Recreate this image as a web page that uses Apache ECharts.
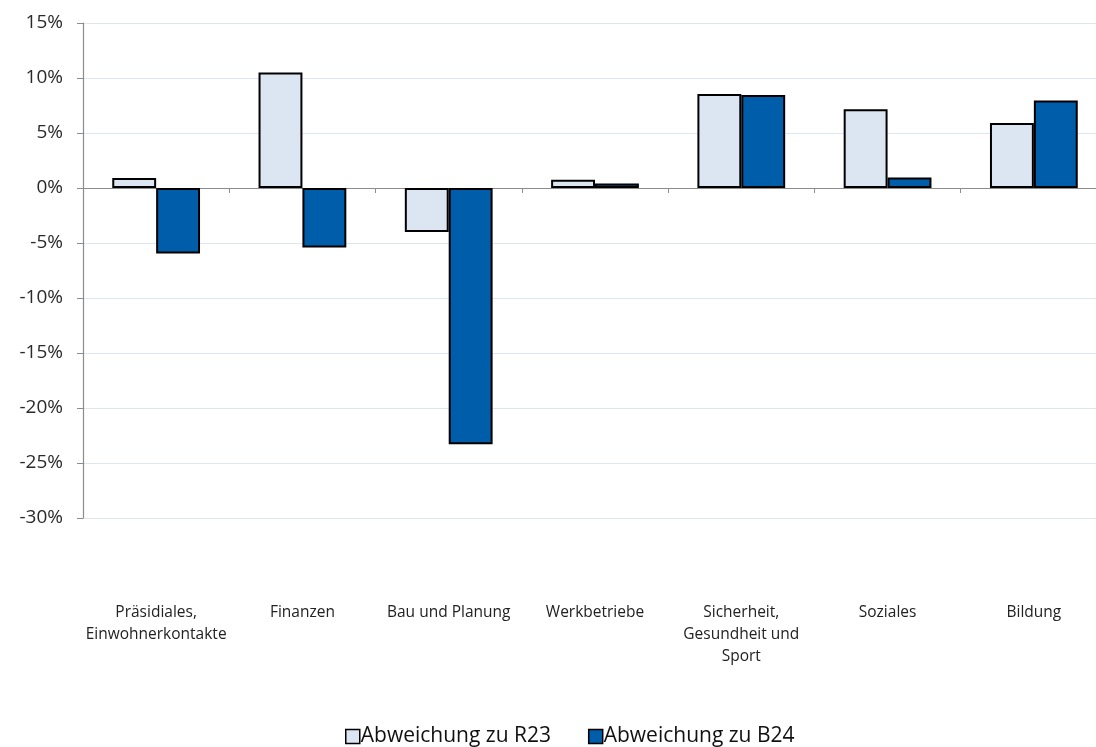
<!DOCTYPE html>
<html>
<head>
<meta charset="utf-8">
<script src="https://cdn.jsdelivr.net/npm/echarts@6/dist/echarts.min.js"></script>
<style>
html,body{margin:0;padding:0;background:#fff;}
#c{width:1096px;height:747px;}
</style>
</head>
<body>
<div id="c"></div>
<script>
const categories = [
  'Präsidiales,\nEinwohnerkontakte',
  'Finanzen',
  'Bau und Planung',
  'Werkbetriebe',
  'Sicherheit,\nGesundheit und\nSport',
  'Soziales',
  'Bildung'
];
const seriesNames = ['Abweichung zu R23', 'Abweichung zu B24'];
const valuesR23 = [0.9, 10.5, -4.0, 0.75, 8.55, 7.15, 5.9];
const valuesB24 = [-5.95, -5.4, -23.3, 0.4, 8.45, 0.95, 7.95];
const yTicks = { min: -30, max: 15, interval: 5 };

const chart = echarts.init(document.getElementById('c'), null, { renderer: 'canvas' });
const font = "'Open Sans', 'DejaVu Sans', sans-serif";
const colors = ['#dce6f2', '#005da9'];

chart.setOption({
  animation: false,
  backgroundColor: '#ffffff',
  textStyle: { fontFamily: font },
  grid: { left: 83, top: 23, right: -11, height: 495, containLabel: false, outerBoundsMode: 'none' },
  legend: {
    top: 721,
    left: 340,
    icon: 'rect',
    itemWidth: 14,
    itemHeight: 14,
    itemGap: 37,
    textStyle: { fontFamily: font, fontSize: 21, color: '#111', padding: [0, 0, 0, -4] },
    data: seriesNames.map((n, i) => ({
      name: n,
      itemStyle: { color: colors[i], borderColor: '#000', borderWidth: 1.5 }
    }))
  },
  xAxis: [
    {
      type: 'category',
      data: categories,
      position: 'bottom',
      axisLine: { show: false, onZero: false },
      axisTick: { show: false },
      axisLabel: {
        interval: 0,
        margin: 84,
        fontFamily: font,
        fontSize: 15.5,
        lineHeight: 22,
        color: '#222',
        align: 'center',
        verticalAlign: 'top'
      },
      splitLine: { show: false }
    },
    {
      type: 'category',
      data: categories,
      position: 'bottom',
      axisLine: { show: true, onZero: true, lineStyle: { color: '#8c8c8c', width: 1.2 } },
      axisTick: { show: true, length: 5, lineStyle: { color: '#8c8c8c' } },
      axisLabel: { show: false },
      splitLine: { show: false }
    }
  ],
  yAxis: {
    type: 'value',
    min: yTicks.min,
    max: yTicks.max,
    interval: yTicks.interval,
    axisLine: { show: true, lineStyle: { color: '#8c8c8c', width: 1.2 } },
    axisTick: { show: true, length: 6, lineStyle: { color: '#8c8c8c' } },
    axisLabel: {
      formatter: '{value}%',
      fontFamily: font,
      fontSize: 19,
      color: '#2a2a2a',
      margin: 20
    },
    splitLine: { show: true, lineStyle: { color: '#dde6f3', width: 1 } }
  },
  series: [
    {
      name: seriesNames[0],
      type: 'bar',
      xAxisIndex: 0,
      data: valuesR23,
      barGap: '0%',
      barCategoryGap: '40%',
      itemStyle: { color: colors[0], borderColor: '#000', borderWidth: 2 }
    },
    {
      name: seriesNames[1],
      type: 'bar',
      xAxisIndex: 0,
      data: valuesB24,
      barGap: '0%',
      barCategoryGap: '40%',
      itemStyle: { color: colors[1], borderColor: '#000', borderWidth: 2 }
    }
  ]
});
</script>
</body>
</html>
